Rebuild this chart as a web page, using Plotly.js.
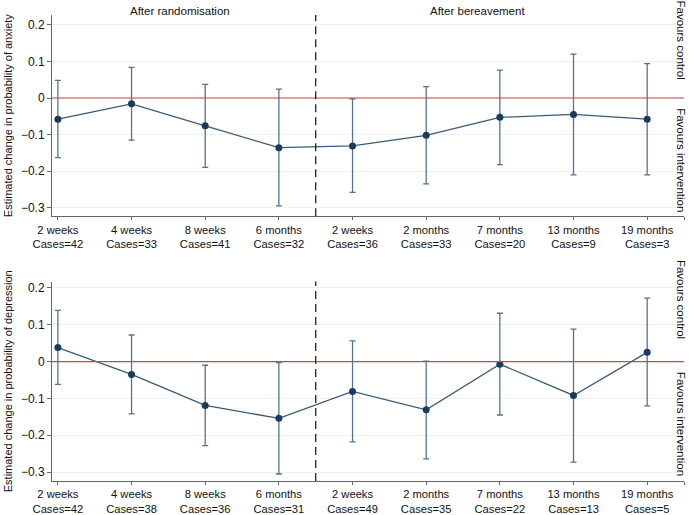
<!DOCTYPE html>
<html>
<head>
<meta charset="utf-8">
<script src="https://cdn.plot.ly/plotly-3.0.1.min.js"></script>
<style>html,body{margin:0;padding:0;background:#fff;}#chart{width:691px;height:515px;}</style>
</head>
<body>
<div id="chart"></div>
<script>
// Time points (x positions 1..9)
const timePoints = ["2 weeks","4 weeks","8 weeks","6 months","2 weeks","2 months","7 months","13 months","19 months"];
const anxietyCases = [42,33,41,32,36,33,20,9,3];
const depressionCases = [42,38,36,31,49,35,22,13,5];

// Anxiety: estimate, lower CI, upper CI
const anxietyEst = [-0.058,-0.016,-0.076,-0.136,-0.131,-0.102,-0.053,-0.045,-0.058];
const anxietyLo  = [-0.163,-0.115,-0.190,-0.295,-0.258,-0.235,-0.182,-0.210,-0.210];
const anxietyHi  = [ 0.048, 0.084, 0.037, 0.024,-0.002, 0.031, 0.076, 0.120, 0.094];

// Depression: estimate, lower CI, upper CI
const depressionEst = [ 0.038,-0.035,-0.119,-0.154,-0.081,-0.131,-0.007,-0.092, 0.025];
const depressionLo  = [-0.062,-0.142,-0.228,-0.305,-0.218,-0.264,-0.145,-0.273,-0.120];
const depressionHi  = [ 0.139, 0.072,-0.010,-0.003, 0.056, 0.001, 0.131, 0.088, 0.172];

const yTicks = [0.2,0.1,0,-0.1,-0.2,-0.3];
const yTickText = ["0.2","0.1","0","\u22120.1","\u22120.2","\u22120.3"];

const xs = timePoints.map((_, i) => i + 1);
const lineCol = '#3b5a79', markCol = '#1b3b5e', errCol = '#55728f', redCol = '#c9474f';

function trace(est, lo, hi, xa, ya) {
  return {
    x: xs, y: est, xaxis: xa, yaxis: ya, type: 'scatter', mode: 'lines+markers',
    line: {color: lineCol, width: 1.3},
    marker: {color: markCol, size: 7},
    error_y: {type: 'data', symmetric: false,
      array: hi.map((h, i) => h - est[i]),
      arrayminus: lo.map((l, i) => est[i] - l),
      color: errCol, thickness: 1.3, width: 3},
    hoverinfo: 'skip', showlegend: false
  };
}

const tickVals = xs.concat([9.5]);
const ttA = timePoints.map((t, i) => t + '<br>Cases=' + anxietyCases[i]).concat(['']);
const ttD = timePoints.map((t, i) => t + '<br>Cases=' + depressionCases[i]).concat(['']);

const font = {family: 'Liberation Sans, Arial, sans-serif', color: '#111'};
const xbase = {range: [0.92, 9.5], tickmode: 'array', tickvals: tickVals, showgrid: false,
  zeroline: false, showline: true, linecolor: '#666', linewidth: 1, ticks: 'outside', ticklen: 3,
  tickcolor: '#666', tickfont: {size: 11.2, family: font.family, color: '#111'}};
const ybase = {tickmode: 'array', tickvals: yTicks, ticktext: yTickText, showgrid: true,
  gridcolor: '#f0f0f0', gridwidth: 1, zeroline: false, showline: true, linecolor: '#666',
  linewidth: 1, ticks: 'outside', ticklen: 4, tickcolor: '#666',
  tickfont: {size: 12, family: font.family, color: '#111'}};

const layout = {
  width: 691, height: 515, paper_bgcolor: '#fff', plot_bgcolor: '#fff',
  margin: {l: 52, r: 7, t: 15, b: 34},
  font: font, showlegend: false,
  xaxis: Object.assign({}, xbase, {anchor: 'y', ticktext: ttD}),
  yaxis: Object.assign({}, ybase, {domain: [0, 0.428], range: [-0.324, 0.217],
    title: {text: 'Estimated change in probability of depression', font: {size: 11, color: '#111'}, standoff: 6}}),
  xaxis2: Object.assign({}, xbase, {anchor: 'y2', ticktext: ttA}),
  yaxis2: Object.assign({}, ybase, {domain: [0.568, 1], range: [-0.3236, 0.227],
    title: {text: 'Estimated change in probability of anxiety', font: {size: 11, color: '#111'}, standoff: 6}}),
  shapes: [
    {type: 'line', xref: 'x2 domain', yref: 'y2', x0: 0, x1: 1, y0: 0, y1: 0, line: {color: redCol, width: 1.2}},
    {type: 'line', xref: 'x domain', yref: 'y', x0: 0, x1: 1, y0: 0, y1: 0, line: {color: redCol, width: 1.2}},
    {type: 'line', xref: 'x2', yref: 'y2 domain', x0: 4.5, x1: 4.5, y0: 0, y1: 1, line: {color: '#222', width: 1.3, dash: '8px,5px'}},
    {type: 'line', xref: 'x', yref: 'y domain', x0: 4.5, x1: 4.5, y0: 0, y1: 1, line: {color: '#222', width: 1.3, dash: '8px,5px'}}
  ],
  annotations: [
    {text: 'After randomisation', xref: 'x2', yref: 'paper', x: 2.66, y: 1, yanchor: 'bottom', yshift: -4, showarrow: false, font: {size: 11.5, color: '#111'}},
    {text: 'After bereavement', xref: 'x2', yref: 'paper', x: 6.7, y: 1, yanchor: 'bottom', yshift: -4, showarrow: false, font: {size: 11.5, color: '#111'}},
    {text: 'Favours control', xref: 'paper', yref: 'y2', x: 1, y: 0.16, xshift: 5, showarrow: false, textangle: 90, font: {size: 11.5, color: '#111'}},
    {text: 'Favours intervention', xref: 'paper', yref: 'y2', x: 1, y: -0.170, xshift: 5, showarrow: false, textangle: 90, font: {size: 11.5, color: '#111'}},
    {text: 'Favours control', xref: 'paper', yref: 'y', x: 1, y: 0.17, xshift: 5, showarrow: false, textangle: 90, font: {size: 11.5, color: '#111'}},
    {text: 'Favours intervention', xref: 'paper', yref: 'y', x: 1, y: -0.169, xshift: 5, showarrow: false, textangle: 90, font: {size: 11.5, color: '#111'}}
  ]
};

Plotly.newPlot('chart', [
  trace(anxietyEst, anxietyLo, anxietyHi, 'x2', 'y2'),
  trace(depressionEst, depressionLo, depressionHi, 'x', 'y')
], layout, {staticPlot: true, displayModeBar: false});
</script>
</body>
</html>
